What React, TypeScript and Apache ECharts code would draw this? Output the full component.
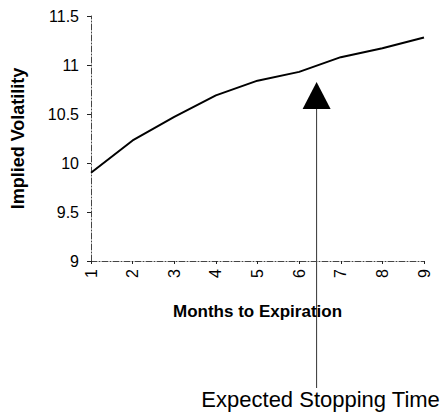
import React, { useEffect, useRef } from "react";
import * as echarts from "echarts";

const months = [1, 2, 3, 4, 5, 6, 7, 8, 9];
const impliedVol = [9.9, 10.23, 10.47, 10.69, 10.84, 10.93, 11.08, 11.17, 11.28];
const stoppingTime = 6.42;
const yTicks = { min: 9, max: 11.5, interval: 0.5 };

const FONT = "'Liberation Sans', Arial, Helvetica, sans-serif";

export default function App() {
  const ref = useRef<HTMLDivElement>(null);
  useEffect(() => {
    if (!ref.current) return;
    const chart = echarts.init(ref.current, undefined, { renderer: "svg" });
    const axisLine = { show: true, lineStyle: { color: "#444", width: 1, type: [6, 2, 1, 2] as any } };
    chart.setOption({
      animation: false,
      backgroundColor: "#fff",
      grid: { left: 91, top: 16, right: 19, bottom: 153, containLabel: false },
      xAxis: {
        type: "value",
        min: 1,
        max: 9,
        interval: 1,
        name: "Months to Expiration",
        nameLocation: "middle",
        nameGap: 42,
        nameTextStyle: { fontFamily: FONT, fontWeight: "bold", fontSize: 17, color: "#000" },
        axisLine,
        axisTick: { show: true, length: 3, lineStyle: { color: "#222" } },
        axisLabel: { rotate: 90, fontFamily: FONT, fontSize: 16, color: "#000", margin: 8 },
        splitLine: { show: false },
      },
      yAxis: {
        type: "value",
        min: yTicks.min,
        max: yTicks.max,
        interval: yTicks.interval,
        name: "Implied Volatility",
        nameLocation: "middle",
        nameGap: 64,
        nameTextStyle: { fontFamily: FONT, fontWeight: "bold", fontSize: 18, color: "#000" },
        axisLine,
        axisTick: { show: true, length: 4, lineStyle: { color: "#222" } },
        axisLabel: { fontFamily: FONT, fontSize: 16, color: "#000", margin: 12 },
        splitLine: { show: false },
      },
      series: [
        {
          type: "line",
          data: months.map((m, i) => [m, impliedVol[i]]),
          symbol: "none",
          lineStyle: { color: "#000", width: 2 },
        },
      ],
    });
    const [ax] = chart.convertToPixel({ gridIndex: 0 }, [stoppingTime, 9]) as number[];
    chart.setOption({
      graphic: [
        {
          type: "line",
          shape: { x1: ax, y1: 105, x2: ax, y2: 388 },
          style: { stroke: "#333", lineWidth: 1 },
        },
        {
          type: "polygon",
          shape: { points: [[ax - 14, 109], [ax + 14, 109], [ax, 82]] },
          style: { fill: "#000" },
        },
        {
          type: "text",
          x: ax + 4,
          y: 399,
          style: {
            text: "Expected Stopping Time",
            fontFamily: FONT,
            fontSize: 22,
            fill: "#000",
            align: "center",
            verticalAlign: "middle",
          },
        },
      ],
    });
    return () => chart.dispose();
  }, []);
  return <div ref={ref} style={{ width: 443, height: 414, position: "absolute", left: 0, top: 0 }} />;
}
